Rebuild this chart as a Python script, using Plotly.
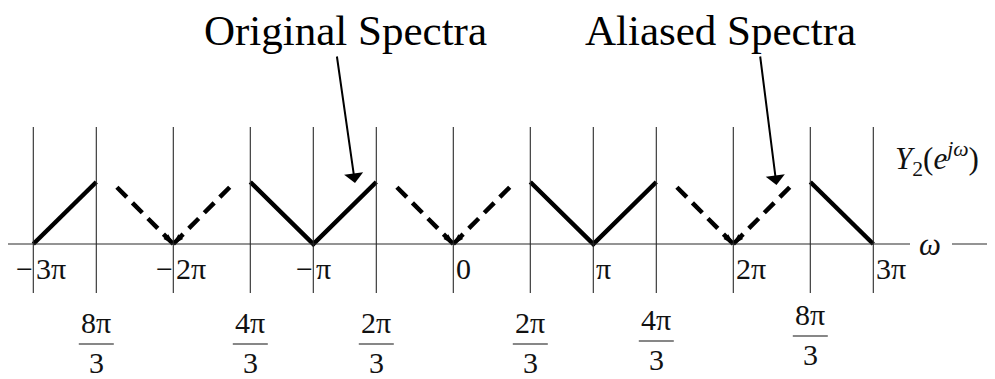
import math
import plotly.graph_objects as go

# ---------------- data (x in units of pi, y = spectrum magnitude) ----------------
line_pos = [-3, -2.55, -2, -1.45, -1, -0.55, 0, 0.55, 1, 1.45, 2, 2.55, 3]

int_ticks = [-3, -2, -1, 0, 1, 2, 3]
int_labels = ["3π", "2π", "π", "0", "π", "2π", "3π"]
int_signs = ["−", "−", "−", "", "", "", ""]

frac_pos = [-2.55, -1.45, -0.55, 0.55, 1.45, 2.55]
frac_num = ["8π", "4π", "2π", "2π", "4π", "8π"]
frac_den = ["3", "3", "3", "3", "3", "3"]

orig_x = [[-3, -2.55], [-1.45, -1, -0.55], [0.55, 1, 1.45], [2.55, 3]]
orig_y = [[0, 1], [1, 0, 1], [1, 0, 1], [1, 0]]

alias_x = [[-2, -2.44], [-2, -1.56], [0, -0.44], [0, 0.44], [2, 1.56], [2, 2.44]]
alias_y = [[0, 1], [0, 1], [0, 1], [0, 1], [0, 1], [0, 1]]

# ---------------- layout helpers (reference pixel -> data) ----------------
W, H = 995, 379
PAGE_OFF = 8          # the html body margin shifts the figure by 8 px
X0_PX, PX_PER_X = 453.3, 140.0
Y0_PX, PX_PER_Y = 244.0, 62.0


def dx(px):
    return (px - X0_PX) / PX_PER_X


def dy(py):
    return (Y0_PX - py) / PX_PER_Y


SERIF = "Liberation Serif, Times New Roman, serif"
INK = "#111111"

fig = go.Figure()

for xs, ys in zip(orig_x, orig_y):
    fig.add_trace(go.Scatter(x=xs, y=ys, mode="lines",
                             line=dict(color="black", width=4.5),
                             showlegend=False, hoverinfo="skip"))

for xs, ys in zip(alias_x, alias_y):
    fig.add_trace(go.Scatter(x=xs, y=ys, mode="lines",
                             line=dict(color="black", width=4.5, dash="14px,8px"),
                             showlegend=False, hoverinfo="skip"))

# small arrow tips where the dashed arms meet the axis
tip_x, tip_y, tip_ang = [], [], []
for xs, ys in zip(alias_x, alias_y):
    ddx = (xs[0] - xs[1]) * PX_PER_X
    ddy = -(ys[0] - ys[1]) * PX_PER_Y      # screen y grows downward
    tip_x.append(xs[0])
    tip_y.append(ys[0])
    tip_ang.append(math.degrees(math.atan2(ddx, -ddy)))
fig.add_trace(go.Scatter(x=tip_x, y=tip_y, mode="markers",
                         marker=dict(symbol="arrow", size=11, color="black",
                                     angle=tip_ang, line=dict(width=0)),
                         showlegend=False, hoverinfo="skip"))

shapes = []
for p in line_pos:
    shapes.append(dict(type="line", xref="x", yref="y", x0=p, x1=p,
                       y0=dy(293), y1=dy(127),
                       line=dict(color="#2a2a2a", width=1.1)))
shapes.append(dict(type="line", xref="x", yref="y", x0=dx(8), x1=dx(910),
                   y0=0, y1=0, line=dict(color="#2a2a2a", width=1.1)))
shapes.append(dict(type="line", xref="x", yref="y", x0=dx(952), x1=dx(1000),
                   y0=0, y1=0, line=dict(color="#2a2a2a", width=1.1)))

annotations = []
TICK_FONT = dict(family=SERIF, size=30, color=INK)

for t, lab, sg in zip(int_ticks, int_labels, int_signs):
    annotations.append(dict(x=t, y=dy(268), xref="x", yref="y", text=lab,
                            showarrow=False, xanchor="left", yanchor="middle",
                            xshift=1, font=TICK_FONT))
    if sg:
        annotations.append(dict(x=t, y=dy(268), xref="x", yref="y", text=sg,
                                showarrow=False, xanchor="right", yanchor="middle",
                                xshift=2, font=TICK_FONT))

frac_shift = [0, 0, 0, 0, -3, -8]
half_bar = 17.5 / PX_PER_X
for p, num, den, sh in zip(frac_pos, frac_num, frac_den, frac_shift):
    annotations.append(dict(x=p, y=dy(322 + sh), xref="x", yref="y", text=num,
                            showarrow=False, xanchor="center", yanchor="middle",
                            font=TICK_FONT))
    annotations.append(dict(x=p, y=dy(362 + sh), xref="x", yref="y", text=den,
                            showarrow=False, xanchor="center", yanchor="middle",
                            font=TICK_FONT))
    shapes.append(dict(type="line", xref="x", yref="y", x0=p - half_bar,
                       x1=p + half_bar, y0=dy(344 + sh), y1=dy(344 + sh),
                       line=dict(color=INK, width=1.2)))

annotations.append(dict(x=dx(937), y=dy(159), xref="x", yref="y",
                        text="<i>Y</i><sub>2</sub>(<i>e</i><sup><i>jω</i></sup>)",
                        showarrow=False, xanchor="center", yanchor="middle",
                        font=dict(family=SERIF, size=31, color=INK)))
annotations.append(dict(x=dx(930), y=dy(244), xref="x", yref="y",
                        text="<i>ω</i>", showarrow=False, xanchor="center",
                        yanchor="middle", font=dict(family=SERIF, size=31, color=INK)))

TITLE_FONT = dict(family=SERIF, size=43, color="black")
annotations.append(dict(x=dx(345), y=dy(30), xref="x", yref="y",
                        text="Original Spectra", showarrow=False,
                        xanchor="center", yanchor="middle", font=TITLE_FONT))
annotations.append(dict(x=dx(720), y=dy(30), xref="x", yref="y",
                        text="Aliased Spectra", showarrow=False,
                        xanchor="center", yanchor="middle", font=TITLE_FONT))

for (tx, ty), (hx, hy) in [((336.7, 55), (355, 183)), ((760, 55), (776.5, 185))]:
    annotations.append(dict(x=dx(hx), y=dy(hy), xref="x", yref="y",
                            ax=dx(tx), ay=dy(ty), axref="x", ayref="y",
                            text="", showarrow=True, arrowhead=1,
                            arrowsize=1.6, arrowwidth=2, arrowcolor="black",
                            standoff=0, startstandoff=0))

fig.update_layout(
    width=W, height=H, autosize=False,
    margin=dict(l=0, r=0, t=0, b=0, pad=0),
    paper_bgcolor="white", plot_bgcolor="white",
    xaxis=dict(range=[dx(PAGE_OFF), dx(PAGE_OFF + W)], visible=False, fixedrange=True),
    yaxis=dict(range=[dy(PAGE_OFF + H), dy(PAGE_OFF)], visible=False, fixedrange=True),
    shapes=shapes, annotations=annotations, showlegend=False,
)

fig.write_html("out.html")
